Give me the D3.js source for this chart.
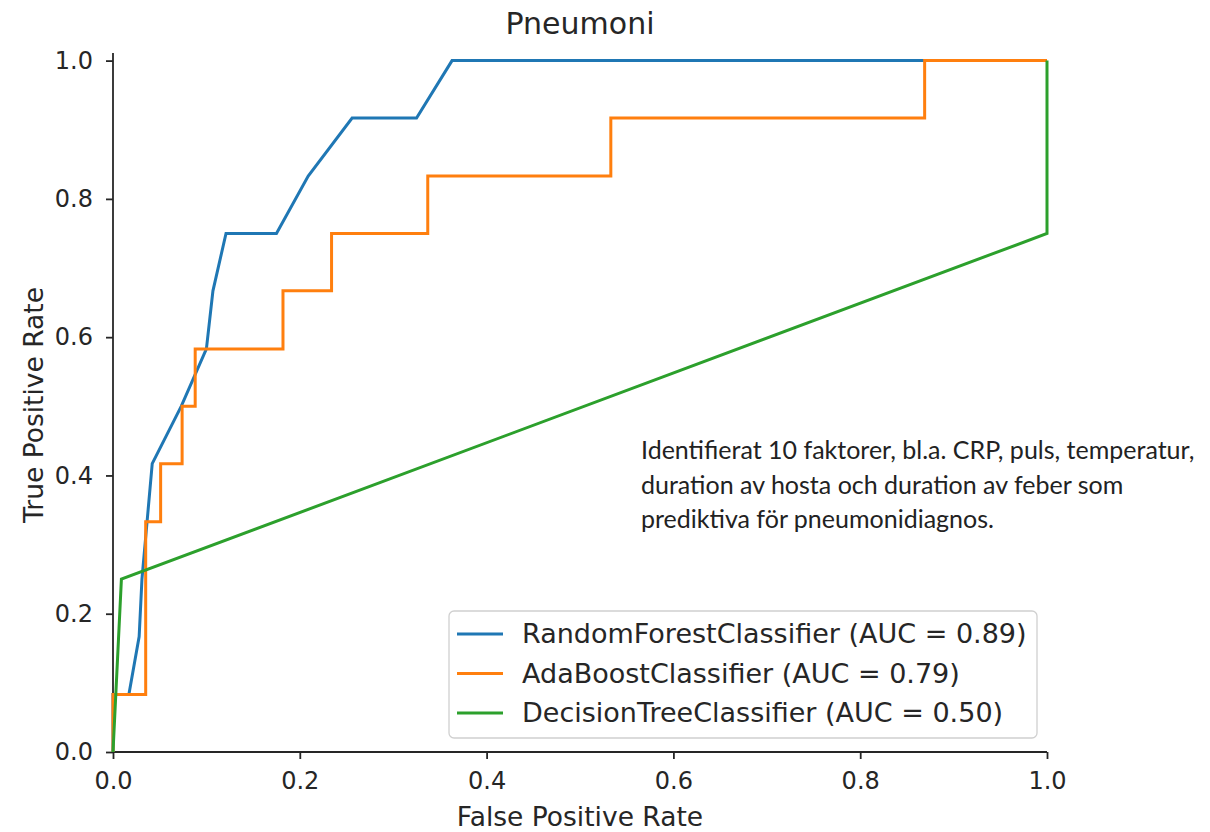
<!DOCTYPE html>
<html>
<head>
<meta charset="utf-8">
<script src="https://cdn.jsdelivr.net/npm/d3@7"></script>
<style>
  body { margin: 0; background: #fff; }
  svg text { font-family: "DejaVu Sans", sans-serif; fill: #262626; }
</style>
</head>
<body>
<svg id="chart" width="1210" height="832"></svg>
<script>
// ROC points (fpr, tpr)
var rf_fpr = [0, 0, 0.017, 0.028, 0.031, 0.042, 0.073, 0.100, 0.107, 0.121, 0.175, 0.209, 0.256, 0.325, 0.363, 1.0];
var rf_tpr = [0, 0.083, 0.083, 0.167, 0.25, 0.417, 0.5, 0.583, 0.667, 0.75, 0.75, 0.833, 0.917, 0.917, 1.0, 1.0];

var ada_fpr = [0, 0, 0.035, 0.035, 0.051, 0.051, 0.074, 0.074, 0.088, 0.088, 0.182, 0.182, 0.234, 0.234, 0.337, 0.337, 0.533, 0.533, 0.869, 0.869, 1.0];
var ada_tpr = [0, 0.083, 0.083, 0.333, 0.333, 0.417, 0.417, 0.5, 0.5, 0.583, 0.583, 0.667, 0.667, 0.75, 0.75, 0.833, 0.833, 0.917, 0.917, 1.0, 1.0];

var dt_fpr = [0, 0.009, 1.0, 1.0];
var dt_tpr = [0, 0.25, 0.75, 1.0];

var series_names = ["RandomForestClassifier (AUC = 0.89)", "AdaBoostClassifier (AUC = 0.79)", "DecisionTreeClassifier (AUC = 0.50)"];
var series_colors = ["#1f77b4", "#ff7f0e", "#2ca02c"];
var tick_values = [0, 0.2, 0.4, 0.6, 0.8, 1.0];
var note_lines = ["Identifierat 10 faktorer, bl.a. CRP, puls, temperatur,", "duration av hosta och duration av feber som", "prediktiva för pneumonidiagnos."];

var svg = d3.select("#chart");
var x = d3.scaleLinear().domain([0, 1]).range([113, 1047]);
var y = d3.scaleLinear().domain([0, 1.011]).range([752, 53]);

// axes (left + bottom only)
var xAxis = svg.append("g").attr("transform", "translate(0," + y(0) + ")")
    .call(d3.axisBottom(x).tickValues(tick_values).tickFormat(d3.format(".1f")).tickSize(7).tickPadding(13));
var yAxis = svg.append("g").attr("transform", "translate(" + x(0) + ",0)")
    .call(d3.axisLeft(y).tickValues(tick_values).tickFormat(d3.format(".1f")).tickSize(7).tickPadding(13));
[xAxis, yAxis].forEach(function(a) {
    a.selectAll("path, line").attr("stroke", "#262626").attr("stroke-width", 1.8);
    a.selectAll("text").style("font-size", "24px").style("fill", "#262626");
});
xAxis.select(".domain").attr("d", "M" + x(0) + ",0H" + x(1));
yAxis.select(".domain").attr("d", "M0," + y(0) + "V" + y(1.011));

var line = d3.line().x(function(d) { return x(d[0]); }).y(function(d) { return y(d[1]); });
var data = [d3.zip(rf_fpr, rf_tpr), d3.zip(ada_fpr, ada_tpr), d3.zip(dt_fpr, dt_tpr)];
data.forEach(function(pts, i) {
    svg.append("path").datum(pts)
        .attr("d", line)
        .attr("fill", "none")
        .attr("stroke", series_colors[i])
        .attr("stroke-width", 3)
        .attr("stroke-linejoin", "miter");
});

// title and labels
svg.append("text").attr("x", 580).attr("y", 34).attr("text-anchor", "middle")
    .style("font-size", "30px").text("Pneumoni");
svg.append("text").attr("x", 580).attr("y", 826).attr("text-anchor", "middle")
    .style("font-size", "26.5px").text("False Positive Rate");
svg.append("text").attr("transform", "translate(43,405) rotate(-90)").attr("text-anchor", "middle")
    .style("font-size", "26.5px").text("True Positive Rate");

// legend
var lg = svg.append("g");
lg.append("rect").attr("x", 449).attr("y", 611).attr("width", 588).attr("height", 127)
    .attr("rx", 5).attr("fill", "#fff").attr("stroke", "#d0d0d0").attr("stroke-width", 1.3);
series_names.forEach(function(name, i) {
    var yy = 634 + i * 39.5;
    lg.append("line").attr("x1", 457).attr("x2", 503).attr("y1", yy).attr("y2", yy)
        .attr("stroke", series_colors[i]).attr("stroke-width", 3);
    lg.append("text").attr("x", 522).attr("y", yy + 9).style("font-size", "27px").text(name);
});

// annotation
note_lines.forEach(function(t, i) {
    svg.append("text").attr("x", 641).attr("y", 459 + i * 34.5)
        .style("font-family", "Lato, 'Open Sans', sans-serif").style("font-size", "25px")
        .style("fill", "#222").text(t);
});
</script>
</body>
</html>
